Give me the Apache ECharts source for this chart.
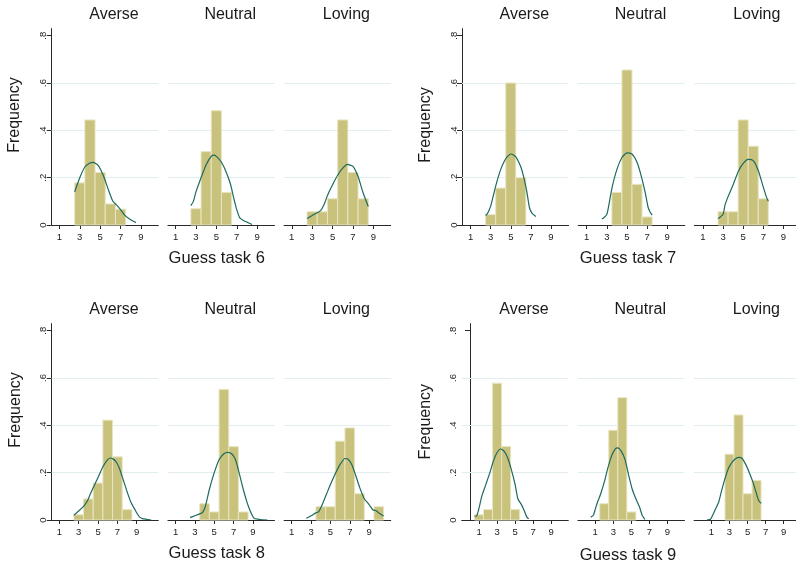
<!DOCTYPE html>
<html><head><meta charset="utf-8">
<script src="https://cdn.jsdelivr.net/npm/echarts@6/dist/echarts.min.js"></script>
<style>html,body{margin:0;padding:0;background:#fff}#c{width:796px;height:566px}</style>
</head><body><div id="c"></div>
<script>
// ---------- labels ----------
const taskTitles = ['Guess task 6', 'Guess task 7', 'Guess task 8', 'Guess task 9'];
const groupNames = ['Averse', 'Neutral', 'Loving'];
const yTitle = 'Frequency';
const xTicks = [1, 3, 5, 7, 9];
const yTicks = [0, 0.2, 0.4, 0.6, 0.8];
const gridTicks = [0.2, 0.4, 0.6];
const binWidth = 1;

// ---------- task 6 ----------
const t6AverseBins = [3, 4, 5, 6, 7];
const t6AverseFreq = [0.178, 0.444, 0.222, 0.089, 0.067];
const t6NeutralBins = [3, 4, 5, 6];
const t6NeutralFreq = [0.069, 0.310, 0.483, 0.138];
const t6LovingBins = [3, 4, 5, 6, 7, 8];
const t6LovingFreq = [0.056, 0.056, 0.111, 0.444, 0.222, 0.111];
const t6AverseDenX = [2.5, 3.0, 3.5, 4.0, 4.3, 4.8, 5.3, 5.8, 6.25, 6.6, 7.0, 7.4, 8.0, 8.5];
const t6AverseDenY = [0.14, 0.2, 0.245, 0.262, 0.265, 0.252, 0.21, 0.15, 0.1, 0.085, 0.065, 0.042, 0.022, 0.01];
const t6NeutralDenX = [2.5, 2.75, 3.0, 3.5, 4.0, 4.5, 4.75, 5.0, 5.5, 6.0, 6.4, 6.7, 7.0, 7.3, 7.7, 8.0, 8.5];
const t6NeutralDenY = [0.082, 0.1, 0.14, 0.2, 0.255, 0.29, 0.295, 0.29, 0.265, 0.22, 0.17, 0.115, 0.065, 0.03, 0.018, 0.012, 0.002];
const t6LovingDenX = [2.5, 3.0, 3.5, 3.85, 4.2, 4.5, 5.0, 5.5, 6.0, 6.45, 7.0, 7.5, 8.0, 8.5];
const t6LovingDenY = [0.027, 0.04, 0.052, 0.062, 0.09, 0.125, 0.17, 0.21, 0.24, 0.256, 0.248, 0.205, 0.135, 0.078];

// ---------- task 7 ----------
const t7AverseBins = [3, 4, 5, 6];
const t7AverseFreq = [0.044, 0.156, 0.600, 0.200];
const t7NeutralBins = [4, 5, 6, 7];
const t7NeutralFreq = [0.138, 0.655, 0.172, 0.034];
const t7LovingBins = [3, 4, 5, 6, 7];
const t7LovingFreq = [0.056, 0.056, 0.444, 0.333, 0.111];
const t7AverseDenX = [2.5, 2.7, 3.0, 3.3, 3.6, 4.0, 4.5, 5.0, 5.5, 6.0, 6.3, 6.6, 6.85, 7.1, 7.5];
const t7AverseDenY = [0.04, 0.05, 0.08, 0.13, 0.18, 0.235, 0.28, 0.3, 0.288, 0.245, 0.2, 0.14, 0.075, 0.05, 0.036];
const t7NeutralDenX = [2.5, 2.75, 3.0, 3.2, 3.5, 4.0, 4.5, 5.0, 5.5, 6.0, 6.4, 6.8, 7.1, 7.3, 7.5];
const t7NeutralDenY = [0.025, 0.033, 0.045, 0.085, 0.155, 0.235, 0.285, 0.305, 0.3, 0.265, 0.21, 0.14, 0.075, 0.055, 0.042];
const t7LovingDenX = [2.5, 2.75, 3.0, 3.2, 3.5, 4.0, 4.5, 5.0, 5.5, 6.0, 6.5, 7.0, 7.3, 7.5];
const t7LovingDenY = [0.027, 0.035, 0.045, 0.085, 0.12, 0.17, 0.225, 0.26, 0.277, 0.272, 0.23, 0.16, 0.12, 0.1];

// ---------- task 8 ----------
const t8AverseBins = [3, 4, 5, 6, 7, 8];
const t8AverseFreq = [0.022, 0.089, 0.156, 0.422, 0.267, 0.044];
const t8NeutralBins = [4, 5, 6, 7, 8];
const t8NeutralFreq = [0.069, 0.034, 0.552, 0.310, 0.034];
const t8LovingBins = [4, 5, 6, 7, 8, 10];
const t8LovingFreq = [0.056, 0.056, 0.333, 0.389, 0.111, 0.056];
const t8AverseDenX = [2.5, 3.0, 3.5, 3.9, 4.2, 4.6, 5.0, 5.5, 6.0, 6.3, 6.8, 7.2, 7.6, 8.0, 8.4, 8.8, 9.0, 9.3, 9.6, 10.0, 10.5];
const t8AverseDenY = [0.02, 0.038, 0.058, 0.08, 0.11, 0.145, 0.18, 0.225, 0.255, 0.262, 0.25, 0.22, 0.17, 0.12, 0.075, 0.045, 0.03, 0.012, 0.006, 0.003, 0.0];
const t8NeutralDenX = [2.5, 3.0, 3.5, 3.8, 4.1, 4.5, 5.0, 5.5, 6.0, 6.4, 6.8, 7.2, 7.6, 8.0, 8.35, 8.7, 9.1, 9.6, 10.0, 10.5];
const t8NeutralDenY = [0.01, 0.018, 0.026, 0.032, 0.06, 0.13, 0.2, 0.255, 0.28, 0.286, 0.28, 0.255, 0.195, 0.13, 0.08, 0.04, 0.008, 0.003, 0.001, 0.0];
const t8LovingDenX = [2.5, 3.0, 3.5, 3.8, 4.2, 4.6, 5.0, 5.5, 6.0, 6.5, 6.8, 7.2, 7.6, 8.0, 8.5, 9.0, 9.4, 9.7, 10.0, 10.5];
const t8LovingDenY = [0.007, 0.018, 0.03, 0.035, 0.07, 0.11, 0.15, 0.195, 0.235, 0.26, 0.258, 0.235, 0.19, 0.14, 0.09, 0.065, 0.042, 0.04, 0.03, 0.017];

// ---------- task 9 ----------
const t9AverseBins = [1, 2, 3, 4, 5];
const t9AverseFreq = [0.022, 0.044, 0.578, 0.311, 0.044];
const t9NeutralBins = [2, 3, 4, 5];
const t9NeutralFreq = [0.069, 0.379, 0.517, 0.034];
const t9LovingBins = [3, 4, 5, 6];
const t9LovingFreq = [0.278, 0.444, 0.111, 0.167];
const t9AverseDenX = [0.5, 0.75, 1.0, 1.3, 1.8, 2.2, 2.6, 3.0, 3.4, 3.8, 4.2, 4.6, 5.0, 5.3, 5.7, 6.0, 6.3, 6.5];
const t9AverseDenY = [0.015, 0.018, 0.05, 0.1, 0.155, 0.2, 0.25, 0.285, 0.3, 0.29, 0.26, 0.21, 0.15, 0.09, 0.065, 0.04, 0.012, 0.005];
const t9NeutralDenX = [0.5, 0.8, 1.0, 1.3, 1.6, 2.0, 2.4, 2.8, 3.2, 3.5, 3.9, 4.3, 4.7, 5.1, 5.5, 5.9, 6.2, 6.5];
const t9NeutralDenY = [0.012, 0.02, 0.045, 0.08, 0.11, 0.16, 0.22, 0.27, 0.3, 0.305, 0.29, 0.255, 0.19, 0.13, 0.09, 0.056, 0.02, 0.003];
const t9LovingDenX = [0.5, 0.9, 1.2, 1.5, 1.8, 2.1, 2.5, 2.9, 3.3, 3.7, 4.1, 4.4, 4.8, 5.2, 5.6, 6.0, 6.2, 6.5];
const t9LovingDenY = [0.0, 0.003, 0.025, 0.05, 0.075, 0.12, 0.175, 0.22, 0.245, 0.26, 0.265, 0.26, 0.235, 0.2, 0.16, 0.11, 0.085, 0.07];

const subplots = [
  [t6AverseBins, t6AverseFreq, t6AverseDenX, t6AverseDenY],
  [t6NeutralBins, t6NeutralFreq, t6NeutralDenX, t6NeutralDenY],
  [t6LovingBins, t6LovingFreq, t6LovingDenX, t6LovingDenY],
  [t7AverseBins, t7AverseFreq, t7AverseDenX, t7AverseDenY],
  [t7NeutralBins, t7NeutralFreq, t7NeutralDenX, t7NeutralDenY],
  [t7LovingBins, t7LovingFreq, t7LovingDenX, t7LovingDenY],
  [t8AverseBins, t8AverseFreq, t8AverseDenX, t8AverseDenY],
  [t8NeutralBins, t8NeutralFreq, t8NeutralDenX, t8NeutralDenY],
  [t8LovingBins, t8LovingFreq, t8LovingDenX, t8LovingDenY],
  [t9AverseBins, t9AverseFreq, t9AverseDenX, t9AverseDenY],
  [t9NeutralBins, t9NeutralFreq, t9NeutralDenX, t9NeutralDenY],
  [t9LovingBins, t9LovingFreq, t9LovingDenX, t9LovingDenY]
];

// ---------- layout ----------
const panelLefts = [51.7, 462, 51.7, 461.7];
const panelZeroY = [225, 225, 520, 520];
const xRanges = [[0.25, 10.7], [0.15, 10.75], [0.21, 11.23], [-0.92, 10.89]];
const colStep = 116.2, gridW = 106.6, gridH = 196.4, yMax = 0.83;
const xTitlePos = [[216.7, 258.5], [628, 258.5], [216.7, 553.5], [628, 555]];
const yTitlePos = [[14.5, 115], [425.7, 125], [15.5, 410], [425.7, 421.7]];

const FONT = '"Liberation Sans", Arial, sans-serif';
const TXT = '#1a1a1a';
const BAR_FILL = '#c9c27d', BAR_EDGE = '#e8e5c2', DEN = '#1d6a5e', GRID = '#e2eded', AXIS = '#2a2a2a';

const grid = [], xAxis = [], yAxis = [], series = [], graphic = [];

for (let p = 0; p < 4; p++) {
  for (let c = 0; c < 3; c++) {
    const i = p * 3 + c;
    const left = panelLefts[p] + c * colStep;
    const top = panelZeroY[p] - gridH;
    grid.push({ left: left, top: top, width: gridW, height: gridH, outerBoundsMode: 'none', containLabel: false });
    xAxis.push({
      gridIndex: i, type: 'value', min: xRanges[p][0], max: xRanges[p][1],
      axisLine: { show: true, onZero: false, lineStyle: { color: AXIS, width: 1 } },
      axisTick: { show: true, customValues: xTicks, length: 4, lineStyle: { color: AXIS, width: 1 } },
      axisLabel: { show: true, customValues: xTicks, margin: 7, fontSize: 9.5, color: TXT, fontFamily: FONT },
      splitLine: { show: false }
    });
    const showY = c === 0;
    yAxis.push({
      gridIndex: i, type: 'value', min: 0, max: yMax,
      axisLine: { show: showY, lineStyle: { color: AXIS, width: 1 } },
      axisTick: { show: showY, customValues: yTicks, length: 5, lineStyle: { color: AXIS, width: 1 } },
      axisLabel: {
        show: showY, customValues: yTicks, rotate: 90, margin: 3, fontSize: 9.5, color: TXT, fontFamily: FONT,
        formatter: v => (Math.abs(v) < 1e-9 ? '0' : String(Math.round(v * 10) / 10).replace(/^0\./, '.'))
      },
      splitLine: { show: false }
    });
    const [bins, freq, dx, dy] = subplots[i];
    // gridlines
    series.push({
      type: 'line', xAxisIndex: i, yAxisIndex: i, data: [], z: 1, silent: true,
      markLine: {
        silent: true, symbol: 'none', animation: false,
        label: { show: false },
        lineStyle: { color: GRID, width: 1, type: 'solid' },
        emphasis: { disabled: true },
        data: gridTicks.map(v => ({ yAxis: v }))
      }
    });
    // histogram bars
    series.push({
      type: 'custom', xAxisIndex: i, yAxisIndex: i, z: 6, silent: true,
      encode: { x: 0, y: 1 },
      data: bins.map((b, k) => [b, freq[k]]),
      renderItem: (params, api) => {
        const ctr = api.value(0), h = api.value(1);
        const p0 = api.coord([ctr - binWidth / 2, h]);
        const p1 = api.coord([ctr + binWidth / 2, 0]);
        return {
          type: 'rect',
          shape: { x: p0[0], y: p0[1], width: p1[0] - p0[0], height: p1[1] - p0[1] },
          style: { fill: BAR_FILL, stroke: BAR_EDGE, lineWidth: 1 }
        };
      }
    });
    // density
    series.push({
      type: 'line', xAxisIndex: i, yAxisIndex: i, z: 7, silent: true,
      data: dx.map((x, k) => [x, dy[k]]),
      showSymbol: false, symbol: 'none', smooth: 0.2,
      lineStyle: { color: DEN, width: 1.2 }
    });
    // group title
    graphic.push({
      type: 'text', x: left + gridW / 2 + 9, y: panelZeroY[p] - 210.5, silent: true,
      style: { text: groupNames[c], fontSize: 16, fontFamily: FONT, fill: TXT, align: 'center', verticalAlign: 'middle' }
    });
  }
  graphic.push({
    type: 'text', x: xTitlePos[p][0], y: xTitlePos[p][1], silent: true,
    style: { text: taskTitles[p], fontSize: 16.5, fontFamily: FONT, fill: TXT, align: 'center', verticalAlign: 'middle' }
  });
  graphic.push({
    type: 'text', x: yTitlePos[p][0], y: yTitlePos[p][1], rotation: Math.PI / 2, silent: true,
    style: { text: yTitle, fontSize: 16, fontFamily: FONT, fill: TXT, align: 'center', verticalAlign: 'middle' }
  });
}

const chart = echarts.init(document.getElementById('c'), null, { renderer: 'canvas' });
chart.setOption({
  backgroundColor: '#ffffff',
  animation: false,
  grid: grid, xAxis: xAxis, yAxis: yAxis, series: series, graphic: graphic
});
</script>
</body></html>
